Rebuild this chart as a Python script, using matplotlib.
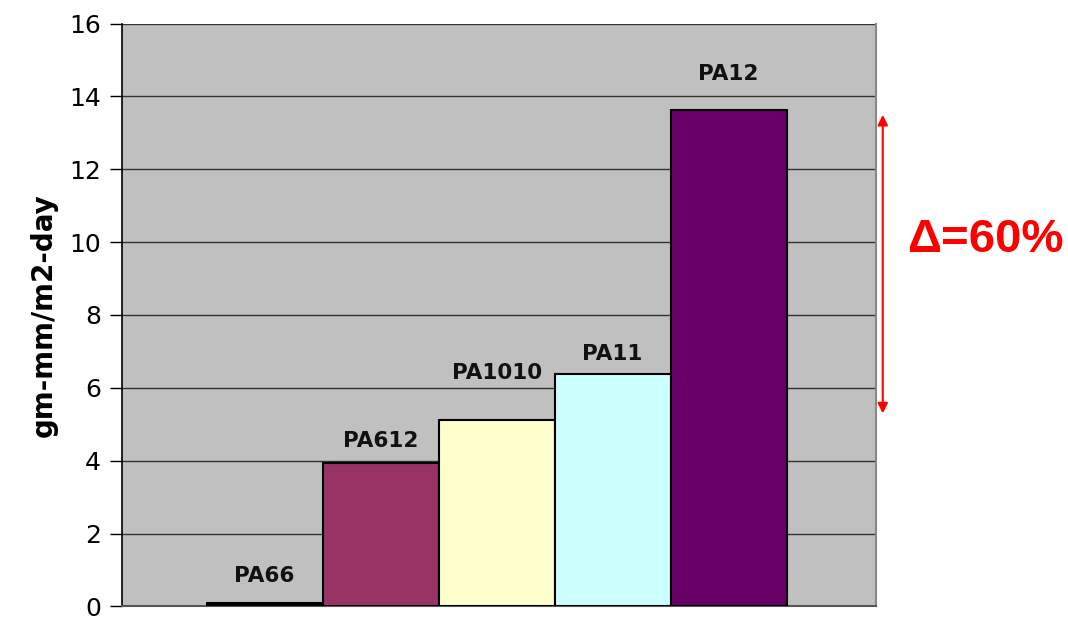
import matplotlib.pyplot as plt
import matplotlib.transforms as mtransforms

# values
categories = ['PA66', 'PA612', 'PA1010', 'PA11', 'PA12']
rates = [0.08, 3.94, 5.11, 6.37, 13.62]
bar_colors = ['#000000', '#993366', '#ffffcc', '#ccffff', '#660066']
label_gap = [0.75, 0.6, 1.3, 0.55, 1.0]  # label offset above bar, in y units
yticks = [0, 2, 4, 6, 8, 10, 12, 14, 16]

fig = plt.figure(figsize=(10.68, 6.2), dpi=100)
ax = fig.add_axes([0.1142, 0.022, 0.706, 0.94])
ax.set_facecolor('#c0c0c0')

x = list(range(len(categories)))
ax.bar(x, rates, width=1.0, color=bar_colors, edgecolor='black', linewidth=1.5, zorder=3)

for xi, name, v, g in zip(x, categories, rates, label_gap):
    ax.text(xi, v + g, name, ha='center', va='center', fontsize=15.5,
            fontweight='bold', color='#111111', zorder=4)

ax.set_xlim(-1.23, 5.27)
ax.set_ylim(0, 16)
ax.set_yticks(yticks)
ax.set_xticks([])
ax.tick_params(axis='y', direction='out', length=9, width=1, labelsize=18, pad=6)
ax.yaxis.grid(True, color='#333333', linewidth=1, zorder=1)
ax.set_axisbelow(True)
ax.set_ylabel('gm-mm/m2-day', fontsize=20, fontweight='bold', labelpad=8)

ax.spines['left'].set_color('black')
ax.spines['left'].set_linewidth(1.2)
ax.spines['top'].set_visible(False)
ax.spines['right'].set_color('#888888')
ax.spines['right'].set_linewidth(1.5)
ax.spines['bottom'].set_color('#555555')
ax.spines['bottom'].set_linewidth(1.5)

# red double arrow from PA12 level down to ~PA1010 level
trans = mtransforms.blended_transform_factory(ax.transAxes, ax.transData)
ax.annotate('', xy=(1.009, 13.57), xytext=(1.009, 5.22), xycoords=trans, textcoords=trans,
            arrowprops=dict(arrowstyle='<|-|>', color='red', lw=1.5, mutation_scale=15),
            annotation_clip=False)
fig.text(0.923, 0.613, '\u0394=60%', color='red', fontsize=34, fontweight='bold',
         family='Liberation Sans', ha='center', va='center')

fig.savefig('out.png', dpi=100)
